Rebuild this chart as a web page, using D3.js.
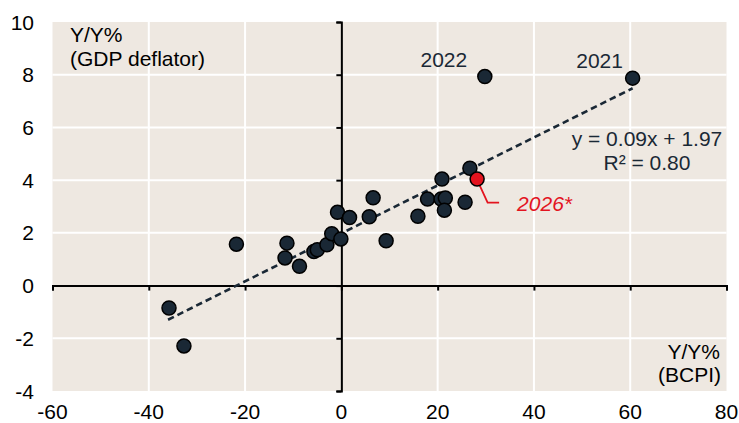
<!DOCTYPE html>
<html>
<head>
<meta charset="utf-8">
<script src="https://cdn.jsdelivr.net/npm/d3@7"></script>
<style>
  body { margin: 0; background: #fff; }
  svg { display: block; }
  text { font-family: "Liberation Sans", Arial, sans-serif; }
</style>
</head>
<body>
<svg id="chart" width="739" height="423"></svg>
<script>
// BCPI y/y % vs GDP deflator y/y %
const bcpi = [-35.8, -32.7, -21.8, -11.3, -11.7, -8.7, -5.7, -5.0, -3.0, -2.0, -0.1, -0.8, 1.7,
    5.8, 6.6, 9.3, 15.9, 17.9, 20.7, 21.6, 21.4, 25.7, 20.9, 26.7, 29.8, 60.5];
const deflator = [-0.85, -2.29, 1.57, 1.61, 1.05, 0.73, 1.29, 1.36, 1.55, 1.97, 1.77, 2.78, 2.58,
    2.61, 3.33, 1.70, 2.63, 3.28, 3.28, 3.32, 2.86, 3.16, 4.04, 4.45, 7.93, 7.87];
const yearLabels = [{ label: "2022", x: 29.8, y: 7.93, dx: -41 }, { label: "2021", x: 60.5, y: 7.87, dx: -33 }];
const forecast = { label: "2026*", x: 28.2, y: 4.04 };
const trend = { slope: 0.091, intercept: 1.98, x0: -36, x1: 60.5 };
const xTicks = [-60, -40, -20, 0, 20, 40, 60, 80];
const yTicks = [-4, -2, 0, 2, 4, 6, 8, 10];

const svg = d3.select("#chart");
const x = d3.scaleLinear().domain([-60, 80]).range([52.5, 726.5]);
const y = d3.scaleLinear().domain([-4, 10]).range([391, 22]);
const dark = "#1a2835", red = "#e3141f";
const fs = "21px";

// plot background + grid
svg.append("rect")
    .attr("x", x(-60)).attr("y", y(10))
    .attr("width", x(80) - x(-60)).attr("height", y(-4) - y(10))
    .attr("fill", "#eee8e1");

const grid = svg.append("g");
grid.selectAll(".vg").data(xTicks.filter(d => d !== 0 && d !== -60 && d !== 80)).join("line")
    .attr("x1", d => x(d)).attr("x2", d => x(d))
    .attr("y1", y(10)).attr("y2", y(-4))
    .attr("stroke", "#fff").attr("stroke-width", 2);
grid.selectAll(".hg").data(yTicks.filter(d => d !== 0 && d !== -4 && d !== 10)).join("line")
    .attr("x1", x(-60)).attr("x2", x(80))
    .attr("y1", d => y(d)).attr("y2", d => y(d))
    .attr("stroke", "#fff").attr("stroke-width", 2);

// axes crossing at zero
const xAxis = svg.append("g").attr("transform", `translate(0,${y(0)})`)
    .call(d3.axisBottom(x).tickValues(xTicks).tickSize(5).tickFormat(""));
const yAxis = svg.append("g").attr("transform", `translate(${x(0)},0)`)
    .call(d3.axisLeft(y).tickValues(yTicks).tickSize(5).tickFormat(""));
[xAxis, yAxis].forEach(g => {
    g.select(".domain").attr("stroke", "#000").attr("stroke-width", 2);
    g.selectAll(".tick line").attr("stroke", "#000").attr("stroke-width", 2);
});

// tick labels on the outside of the plot
svg.append("g").selectAll("text").data(xTicks).join("text")
    .attr("x", d => x(d)).attr("y", 419)
    .attr("text-anchor", "middle").attr("font-size", fs).attr("fill", "#000")
    .text(d => d);
svg.append("g").selectAll("text").data(yTicks).join("text")
    .attr("x", 34).attr("y", d => y(d))
    .attr("text-anchor", "end").attr("dominant-baseline", "central")
    .attr("font-size", fs).attr("fill", "#000")
    .text(d => d);

// trend line
svg.append("line")
    .attr("x1", x(trend.x0)).attr("y1", y(trend.slope * trend.x0 + trend.intercept))
    .attr("x2", x(trend.x1)).attr("y2", y(trend.slope * trend.x1 + trend.intercept))
    .attr("stroke", dark).attr("stroke-width", 2.6).attr("stroke-dasharray", "6.5 4");

// points
const pts = bcpi.map((v, i) => ({ x: v, y: deflator[i] }));
svg.append("g").selectAll("circle").data(pts).join("circle")
    .attr("cx", d => x(d.x)).attr("cy", d => y(d.y)).attr("r", 7)
    .attr("fill", dark).attr("stroke", "#000").attr("stroke-width", 1.5);

// forecast point + leader
const fx = x(forecast.x), fy = y(forecast.y);
svg.append("path")
    .attr("d", `M${fx + 2},${fy + 5}L${fx + 10.5},${fy + 23.5}H${fx + 22}`)
    .attr("fill", "none").attr("stroke", red).attr("stroke-width", 1.8);
svg.append("circle")
    .attr("cx", fx).attr("cy", fy).attr("r", 7)
    .attr("fill", red).attr("stroke", "#000").attr("stroke-width", 1.5);
svg.append("text")
    .attr("x", fx + 40).attr("y", fy + 32)
    .attr("font-size", fs).attr("font-style", "italic").attr("fill", red)
    .text(forecast.label);

// year labels
svg.append("g").selectAll("text").data(yearLabels).join("text")
    .attr("x", d => x(d.x) + d.dx)
    .attr("y", d => y(d.y) - 10)
    .attr("text-anchor", "middle").attr("font-size", fs).attr("fill", dark)
    .text(d => d.label);

// equation
const eq = svg.append("text").attr("text-anchor", "middle").attr("font-size", fs).attr("fill", dark);
eq.append("tspan").attr("x", 647).attr("y", 146).text("y = 0.09x + 1.97");
eq.append("tspan").attr("x", 647).attr("y", 170).text("R² = 0.80");

// axis titles
const yt = svg.append("text").attr("font-size", fs).attr("fill", "#000");
yt.append("tspan").attr("x", 70).attr("y", 42).text("Y/Y%");
yt.append("tspan").attr("x", 70).attr("y", 66).text("(GDP deflator)");
const xt = svg.append("text").attr("font-size", fs).attr("fill", "#000").attr("text-anchor", "end");
xt.append("tspan").attr("x", 720).attr("y", 359).text("Y/Y%");
xt.append("tspan").attr("x", 721).attr("y", 382).text("(BCPI)");
</script>
</body>
</html>
